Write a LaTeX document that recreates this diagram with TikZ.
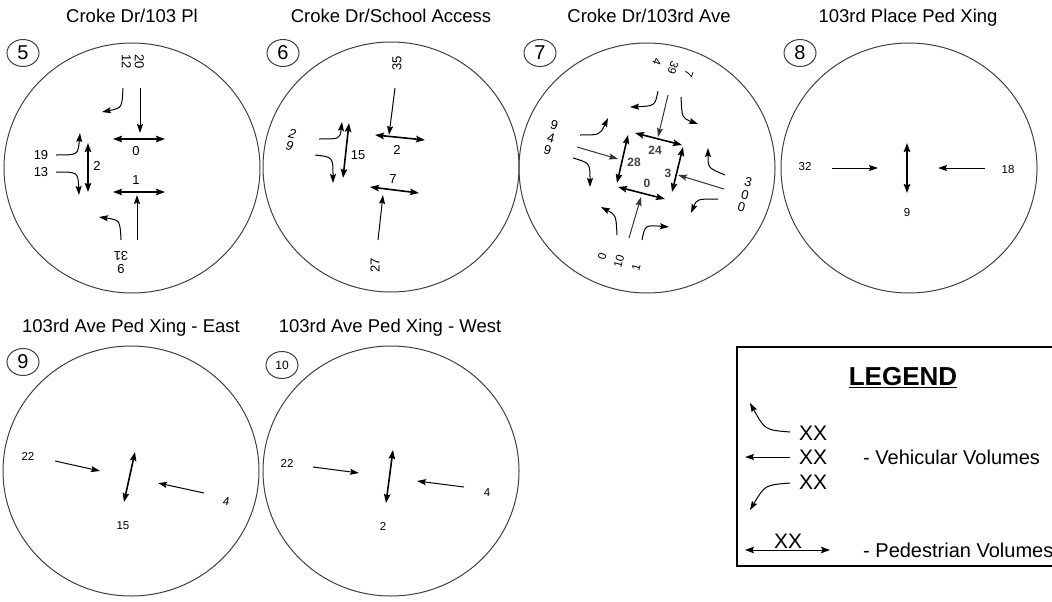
\documentclass[tikz,border=0pt]{standalone}
\usepackage{fontspec}
\setmainfont{Liberation Sans}
\usetikzlibrary{arrows.meta,shapes.geometric}

\begin{document}
\begin{tikzpicture}[x=1pt,y=-1pt,
    ring/.style={draw=black!75,line width=1pt,ellipse,minimum width=256pt,minimum height=250pt,inner sep=0pt},
    tag/.style={draw=black!75,line width=1pt,ellipse,fill=white,minimum width=32pt,minimum height=27pt,inner sep=0pt,font=\fontsize{20}{22}\selectfont},
    title/.style={anchor=base,font=\fontsize{18.5}{20}\selectfont},
    vol/.style={inner sep=0pt,align=center,font=\fontsize{13}{13}\selectfont},
    sml/.style={inner sep=0pt,align=center,font=\fontsize{11.5}{12}\selectfont},
    veh/.style={-{Stealth[length=9pt,width=6pt,inset=1.5pt]},line width=1pt},
    ped/.style={{Stealth[length=9pt,width=6.5pt,inset=1.5pt]}-{Stealth[length=9pt,width=6.5pt,inset=1.5pt]},line width=1.6pt}]
    \useasboundingbox (0,0) rectangle (1052,602);
    \clip (0,0) rectangle (1052,602);

    % intersection 5
    \node[title] (t5) at (132,23) {Croke Dr/103 Pl};
    \node[ring] (c5) at (132,168) {};
    \node[tag] (n5) at (23,53) {5};
    \draw[veh] (140,88) -- (140,133);
    \draw[veh] (123,88) .. controls (122,108) .. (102,112);
    \draw[veh] (137,240) -- (137,195);
    \draw[veh] (121,240) .. controls (120,220) .. (99,217);
    \draw[veh] (56,155) .. controls (78,155) .. (80,133);
    \draw[veh] (56,172) .. controls (78,172) .. (79,195);
    \draw[ped] (113,139) -- (165,139);
    \draw[ped] (113,192) -- (165,192);
    \draw[ped] (88,143) -- (88,192);
    \node[vol,rotate=-90] (v5a) at (133,62) {20\\12};
    \node[vol] (v5b) at (41,155) {19};
    \node[vol] (v5c) at (41,172) {13};
    \node[vol,rotate=180] (v5d) at (121,262) {9\\31};
    \node[vol] (v5e) at (136,151) {0};
    \node[vol] (v5f) at (136,180) {1};
    \node[vol] (v5g) at (97,166) {2};

    % intersection 6
    \node[title] (t6) at (391,23) {Croke Dr/School Access};
    \node[ring] (c6) at (391,167) {};
    \node[tag] (n6) at (283,53) {6};
    \draw[veh] (395,88) -- (389,135);
    \draw[veh] (378,240) -- (383,195);
    \draw[veh] (319,139) .. controls (340,139) .. (342,122);
    \draw[veh] (315,155) .. controls (333,157) .. (333,183);
    \draw[ped] (375,135) -- (425,140);
    \draw[ped] (370,187) -- (419,193);
    \draw[ped] (349,123) -- (343,178);
    \node[vol,rotate=90] (v6a) at (397,63) {35};
    \node[vol,rotate=-12] (v6b) at (291,140) {\itshape 2\\\itshape 9};
    \node[vol] (v6c) at (397,150) {2};
    \node[vol] (v6d) at (393,179) {7};
    \node[vol] (v6e) at (358,155) {15};
    \node[vol,rotate=90] (v6f) at (375,265) {27};

    % intersection 7
    \node[title] (t7) at (649,23) {Croke Dr/103rd Ave};
    \node[ring] (c7) at (647,168) {};
    \node[tag] (n7) at (540,53) {7};
    \draw[veh,draw=black!80] (668,95) -- (658,137);
    \draw[veh,draw=black!80] (724,189) -- (678,175);
    \draw[veh,draw=black!80] (629,238) -- (641,197);
    \draw[veh,draw=black!80] (577,147) -- (618,159);
    \draw[veh] (658,91) .. controls (655,106) .. (630,107);
    \draw[veh] (681,97) .. controls (682,118) .. (698,124);
    \draw[veh] (580,135) .. controls (600,135) .. (608,118);
    \draw[veh] (573,158) .. controls (590,163) .. (590,187);
    \draw[veh] (725,175) .. controls (708,168) .. (708,148);
    \draw[veh] (718,199) .. controls (697,199) .. (691,213);
    \draw[veh] (617,235) .. controls (616,215) .. (601,207);
    \draw[veh] (642,240) .. controls (645,225) .. (669,227);
    \draw[ped] (635,133) -- (682,145);
    \draw[ped] (683,147) -- (672,192);
    \draw[ped] (618,187) -- (665,199);
    \draw[ped] (628,135) -- (617,183);
    \node[sml,rotate=-110] (v7a) at (657,62) {4};
    \node[sml,rotate=-110] (v7b) at (673,68) {39};
    \node[sml,rotate=-110] (v7c) at (689,74) {7};
    \node[vol,rotate=-15] (v7d) at (551,138) {9\\4\\9};
    \node[vol,rotate=-15] (v7e) at (745,195) {3\\0\\0};
    \node[sml,rotate=75] (v7f) at (602,256) {0};
    \node[sml,rotate=75] (v7g) at (619,261) {10};
    \node[sml,rotate=75] (v7h) at (636,267) {1};
    \node[sml,font=\bfseries\fontsize{12}{12}\selectfont,text=black!75] (v7i) at (655,150) {24};
    \node[sml,font=\bfseries\fontsize{12}{12}\selectfont,text=black!75] (v7j) at (634,162) {28};
    \node[sml,font=\bfseries\fontsize{12}{12}\selectfont,text=black!75] (v7k) at (668,173) {3};
    \node[sml,font=\bfseries\fontsize{12}{12}\selectfont,text=black!75] (v7l) at (647,183) {0};

    % intersection 8
    \node[title] (t8) at (908,23) {103rd Place Ped Xing};
    \node[ring] (c8) at (909,168) {};
    \node[tag] (n8) at (800,53) {8};
    \draw[veh] (832,168) -- (878,168);
    \draw[veh] (985,168) -- (938,168);
    \draw[ped] (907,143) -- (907,193);
    \node[sml] (v8a) at (805,167) {32};
    \node[sml] (v8b) at (1008,170) {18};
    \node[sml] (v8c) at (907,213) {9};

    % intersection 9
    \node[title] (t9) at (131,332) {103rd Ave Ped Xing - East};
    \node[ring] (c9) at (131,471) {};
    \node[tag] (n9) at (23,362) {9};
    \draw[veh] (55,461) -- (100,471);
    \draw[veh] (204,493) -- (158,483);
    \draw[ped] (135,452) -- (124,502);
    \node[sml] (v9a) at (28,456) {22};
    \node[sml] (v9b) at (226,502) {\itshape 4};
    \node[sml] (v9c) at (123,526) {15};

    % intersection 10
    \node[title] (t10) at (390,332) {103rd Ave Ped Xing - West};
    \node[ring] (c10) at (391,471) {};
    \node[tag,font=\fontsize{12}{12}\selectfont] (n10) at (282,365) {10};
    \draw[veh] (313,467) -- (359,473);
    \draw[veh] (464,487) -- (417,481);
    \draw[ped] (393,450) -- (386,503);
    \node[sml] (v10a) at (287,463) {22};
    \node[sml] (v10b) at (487,493) {4};
    \node[sml] (v10c) at (383,526) {2};

    % legend
    \draw[line width=1.4pt] (737,347) rectangle (1070,566);
    \node[font=\bfseries\fontsize{26}{28}\selectfont] (leg) at (903,378) {\underline{LEGEND}};
    \draw[veh,line width=1pt] (790,432) .. controls (765,430) .. (750,403);
    \draw[veh,line width=1pt] (790,457) -- (745,457);
    \draw[veh,line width=1pt] (790,483) .. controls (765,485) .. (750,510);
    \draw[ped,line width=1pt] (745,550) -- (830,550);
    \node[font=\fontsize{21}{22}\selectfont] (xx1) at (813,433) {XX};
    \node[font=\fontsize{21}{22}\selectfont] (xx2) at (813,457) {XX};
    \node[font=\fontsize{21}{22}\selectfont] (xx3) at (813,482) {XX};
    \node[font=\fontsize{21}{22}\selectfont] (xx4) at (788,541) {XX};
    \node[anchor=west,inner sep=0pt,font=\fontsize{20}{22}\selectfont] (lveh) at (863,457) {- Vehicular Volumes};
    \node[anchor=west,inner sep=0pt,font=\fontsize{20}{22}\selectfont] (lped) at (863,550) {- Pedestrian Volumes};
\end{tikzpicture}
\end{document}
